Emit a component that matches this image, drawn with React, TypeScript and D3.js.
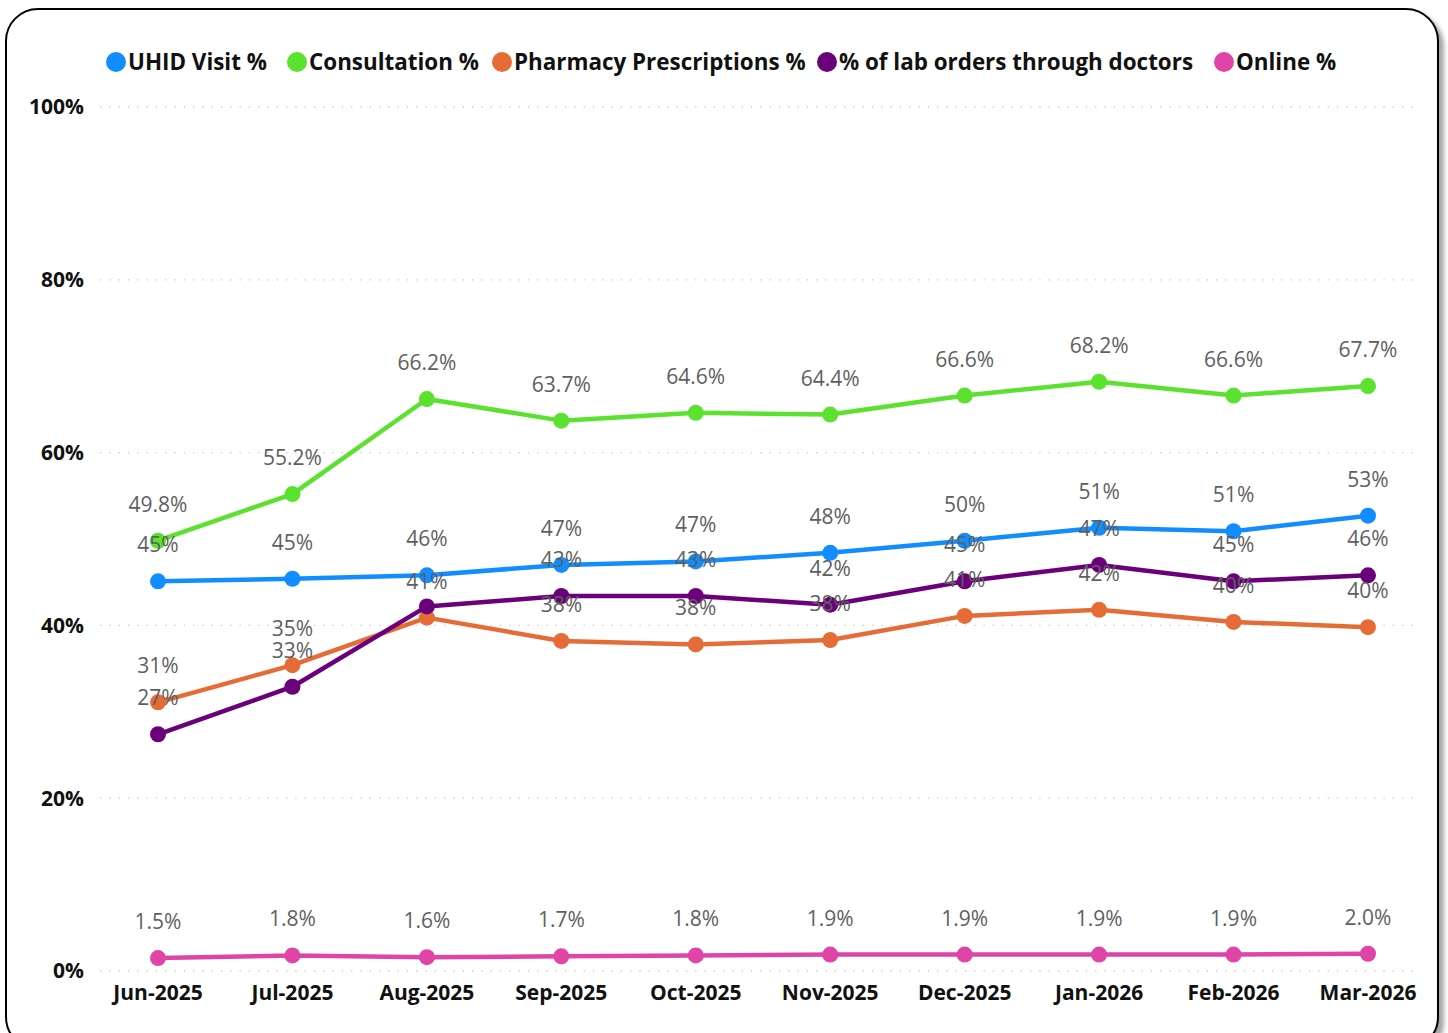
import React from 'react';
import { scalePoint, scaleLinear, line } from 'd3';

const months = ['Jun-2025', 'Jul-2025', 'Aug-2025', 'Sep-2025', 'Oct-2025', 'Nov-2025', 'Dec-2025', 'Jan-2026', 'Feb-2026', 'Mar-2026'];

const uhidVisit = [45.1, 45.4, 45.8, 47.0, 47.4, 48.4, 49.8, 51.3, 50.9, 52.7];
const consultation = [49.8, 55.2, 66.2, 63.7, 64.6, 64.4, 66.6, 68.2, 66.6, 67.7];
const pharmacy = [31.1, 35.4, 40.9, 38.2, 37.8, 38.3, 41.1, 41.8, 40.4, 39.8];
const labOrders = [27.4, 32.9, 42.2, 43.4, 43.4, 42.4, 45.1, 47.0, 45.1, 45.8];
const online = [1.5, 1.8, 1.6, 1.7, 1.8, 1.9, 1.9, 1.9, 1.9, 2.0];

const yTicks = [0, 20, 40, 60, 80, 100];

const series = [
  { name: 'UHID Visit %', values: uhidVisit, color: '#118DFF', decimals: 0 },
  { name: 'Consultation %', values: consultation, color: '#5AE22E', decimals: 1 },
  { name: 'Pharmacy Prescriptions %', values: pharmacy, color: '#E66C37', decimals: 0 },
  { name: '% of lab orders through doctors', values: labOrders, color: '#6B007B', decimals: 0 },
  { name: 'Online %', values: online, color: '#E044A7', decimals: 1 },
];

// labels power bi dropped because of overlap
const hiddenLabels = ['% of lab orders through doctors|Aug-2025'];

const legendX = [116, 297, 502, 827, 1224];

const FONT = "'Segoe UI', 'Open Sans', sans-serif";

export default function App() {
  const width = 1448;
  const height = 1033;

  const x = scalePoint<string>().domain(months).range([158, 1368]);
  const y = scaleLinear().domain([0, 100]).range([971, 107]);

  const path = line<number>()
    .x((d, i) => x(months[i]) as number)
    .y(d => y(d));

  return (
    <div style={{ position: 'absolute', left: 0, top: 0 }}>
      <svg width={width} height={height} viewBox={`0 0 ${width} ${height}`} style={{ display: 'block', background: '#fff' }}>
        <defs>
          <filter id="shadow" x="-5%" y="-5%" width="110%" height="110%">
            <feDropShadow dx="5" dy="5" stdDeviation="2" floodColor="#000" floodOpacity="0.35" />
          </filter>
        </defs>
        <rect x={6} y={9} width={1432} height={1040} rx={32} fill="#fff" stroke="#000" strokeWidth={2} filter="url(#shadow)" />

        {yTicks.map(t => (
          <g key={t}>
            <line x1={100} x2={1416} y1={y(t)} y2={y(t)} stroke="#c8c8c8" strokeWidth={1.3} strokeDasharray="1.3 8" />
            <text x={84} y={y(t)} dy="0.35em" textAnchor="end" fontFamily={FONT} fontWeight="bold" fontSize={21} fill="#111">
              {t}%
            </text>
          </g>
        ))}

        {months.map(m => (
          <text key={m} x={x(m)} y={1000} textAnchor="middle" fontFamily={FONT} fontWeight="bold" fontSize={21} fill="#111">
            {m}
          </text>
        ))}

        {series.map(s => (
          <g key={s.name}>
            <path d={path(s.values) || ''} fill="none" stroke={s.color} strokeWidth={4.5} strokeLinejoin="round" />
            {s.values.map((v, i) => (
              <circle key={i} cx={x(months[i])} cy={y(v)} r={8} fill={s.color} />
            ))}
          </g>
        ))}

        {series.map(s => (
          <g key={s.name + '-labels'}>
            {s.values.map((v, i) =>
              hiddenLabels.includes(s.name + '|' + months[i]) ? null : (
                <text key={i} x={x(months[i])} y={y(v) - 29} textAnchor="middle" fontFamily={FONT} fontWeight={500} fontSize={21} fill="#5f5f5f">
                  {s.decimals ? v.toFixed(1) : Math.round(v)}%
                </text>
              )
            )}
          </g>
        ))}

        {series.map((s, i) => (
          <g key={s.name + '-legend'}>
            <circle cx={legendX[i]} cy={62} r={10} fill={s.color} />
            <text x={legendX[i] + 12} y={62} dy="0.35em" fontFamily={FONT} fontWeight="bold" fontSize={22.4} fill="#111">
              {s.name}
            </text>
          </g>
        ))}
      </svg>
    </div>
  );
}
